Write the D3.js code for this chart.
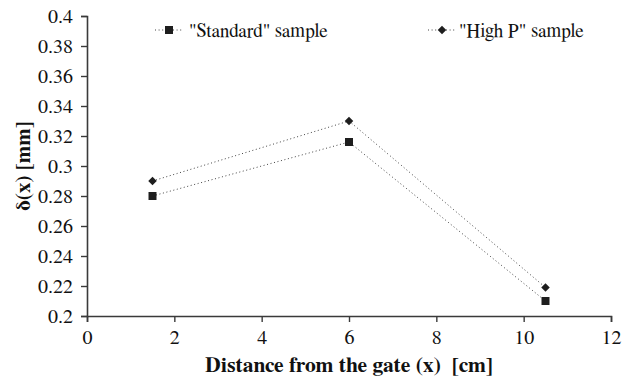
<!DOCTYPE html>
<html>
<head>
<meta charset="utf-8">
<script src="https://cdn.jsdelivr.net/npm/d3@7"></script>
<style>
  html, body { margin: 0; padding: 0; background: #fff; }
  svg { display: block; }
</style>
</head>
<body>
<svg id="chart" width="622" height="382"></svg>
<script>
// Distance from the gate (cm)
const distances = [1.5, 6, 10.5];
// δ(x) in mm for each sample
const standardValues = [0.28, 0.316, 0.21];
const highPValues = [0.29, 0.33, 0.219];
const seriesNames = ['"Standard" sample', '"High P" sample'];
const xTicks = [0, 2, 4, 6, 8, 10, 12];
const yTicks = [0.2, 0.22, 0.24, 0.26, 0.28, 0.3, 0.32, 0.34, 0.36, 0.38, 0.4];

const FONT = "FreeSerif, 'Liberation Serif', Tinos, serif";

const svg = d3.select("#chart");
const plotLeft = 87, plotRight = 611, plotTop = 16, plotBottom = 316;

const x = d3.scaleLinear().domain([0, 12]).range([plotLeft, plotRight]);
const y = d3.scaleLinear().domain([0.2, 0.4]).range([plotBottom, plotTop]);

const axisColor = "#3a3a3a";

// Axes
const xAxis = svg.append("g")
  .attr("transform", `translate(0,${plotBottom})`)
  .call(d3.axisBottom(x).tickValues(xTicks).tickSize(6).tickPadding(8).tickFormat(d3.format("d")));
const yAxis = svg.append("g")
  .attr("transform", `translate(${plotLeft},0)`)
  .call(d3.axisLeft(y).tickValues(yTicks).tickSize(6).tickPadding(8).tickFormat(d => String(+d.toFixed(2))));

[xAxis, yAxis].forEach(g => {
  g.attr("font-family", null).attr("font-size", null);
  g.select(".domain").attr("stroke", axisColor).attr("stroke-width", 1.6);
  g.selectAll(".tick line").attr("stroke", axisColor).attr("stroke-width", 1.4);
  g.selectAll(".tick text")
    .style("font-family", FONT)
    .style("font-size", "20px").attr("fill", "#111");
});
xAxis.selectAll(".tick text").attr("dy", "0.68em");

// Axis titles
svg.append("text")
  .attr("x", (plotLeft + plotRight) / 2).attr("y", 372)
  .attr("text-anchor", "middle")
  .style("font-family", FONT).style("font-weight", "bold").style("font-size", "21.5px")
  .style("white-space", "pre")
  .attr("fill", "#111")
  .text("Distance from the gate (x)  [cm]");

svg.append("text")
  .attr("transform", `translate(30,${(plotTop + plotBottom) / 2}) rotate(-90)`)
  .attr("text-anchor", "middle")
  .style("font-family", FONT).style("font-weight", "bold").style("font-size", "21px")
  .attr("fill", "#111")
  .text("δ(x) [mm]");

// Series: squares and 45°-turned squares
const series = [
  { name: seriesNames[0], values: standardValues, symbol: d3.symbolSquare, size: 64, rot: 0 },
  { name: seriesNames[1], values: highPValues, symbol: d3.symbolSquare, size: 36, rot: 45 }
];

const line = d3.line().x(d => x(d[0])).y(d => y(d[1]));
const markColor = "#1e1e1e";

series.forEach(s => {
  const pts = distances.map((d, i) => [d, s.values[i]]);
  svg.append("path")
    .attr("d", line(pts))
    .attr("fill", "none")
    .attr("stroke", "#444")
    .attr("stroke-width", 1)
    .attr("stroke-dasharray", "1,2.6");
  svg.selectAll(null).data(pts).enter().append("path")
    .attr("transform", d => `translate(${x(d[0])},${y(d[1])}) rotate(${s.rot})`)
    .attr("d", d3.symbol().type(s.symbol).size(s.size))
    .attr("fill", markColor);
});

// Legend
const legend = [
  { cx: 169, tx: 189 },
  { cx: 442, tx: 459 }
];
series.forEach((s, i) => {
  const L = legend[i], ly = 30;
  svg.append("line")
    .attr("x1", L.cx - 14).attr("x2", L.cx + 13)
    .attr("y1", ly).attr("y2", ly)
    .attr("stroke", "#444").attr("stroke-width", 1)
    .attr("stroke-dasharray", "1,2.6");
  svg.append("path")
    .attr("transform", `translate(${L.cx},${ly}) rotate(${s.rot})`)
    .attr("d", d3.symbol().type(s.symbol).size(s.size))
    .attr("fill", markColor);
  svg.append("text")
    .attr("x", L.tx).attr("y", 36.5)
    .style("font-family", FONT).style("font-size", "19px")
    .attr("fill", "#111")
    .text(s.name);
});
</script>
</body>
</html>
